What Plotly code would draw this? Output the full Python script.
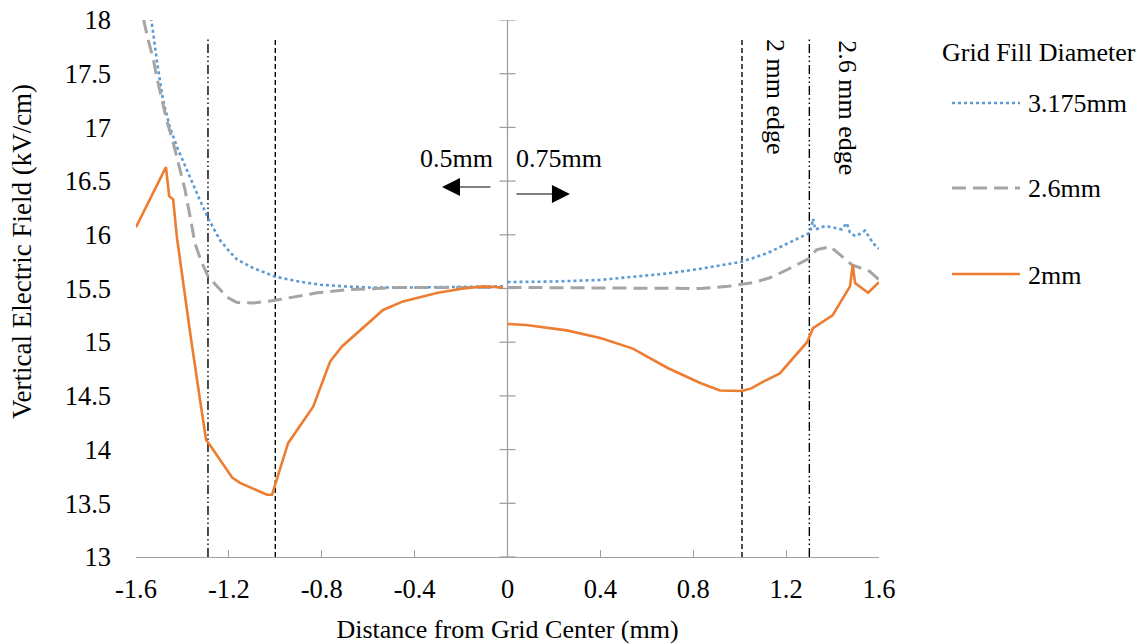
import plotly.graph_objects as go

# ---- data -------------------------------------------------------------
# Each series is measured on two half-grids (left: 0.5mm side, right: 0.75mm side)
x_3175_left = [-1.535, -1.51, -1.484, -1.454, -1.42, -1.381, -1.35, -1.324, -1.286, -1.238,
               -1.20, -1.165, -1.095, -1.0, -0.90, -0.807, -0.70, -0.60, -0.40, -0.20, -0.02]
y_3175_left = [18.02, 17.62, 17.26, 17.0, 16.8, 16.60, 16.45, 16.32, 16.14, 15.95,
               15.85, 15.77, 15.69, 15.61, 15.565, 15.535, 15.52, 15.51, 15.51, 15.515, 15.52]
x_3175_right = [0.0, 0.2, 0.4, 0.55, 0.69, 0.85, 1.01, 1.12, 1.217, 1.303, 1.316, 1.325,
                1.367, 1.40, 1.44, 1.461, 1.475, 1.497, 1.52, 1.54, 1.575, 1.60]
y_3175_right = [15.56, 15.565, 15.58, 15.61, 15.64, 15.69, 15.75, 15.83, 15.93, 16.02, 16.15, 16.05,
                16.08, 16.07, 16.05, 16.11, 16.02, 15.99, 16.01, 16.04, 15.92, 15.87]

x_26_left = [-1.575, -1.565, -1.547, -1.525, -1.511, -1.489, -1.468, -1.439, -1.418, -1.389,
             -1.367, -1.346, -1.317, -1.289, -1.238, -1.209, -1.165, -1.095, -1.0, -0.82,
             -0.68, -0.46, -0.20, -0.02]
y_26_left = [18.2, 17.98, 17.81, 17.63, 17.47, 17.26, 17.07, 16.85, 16.67, 16.42,
             16.17, 15.92, 15.74, 15.61, 15.49, 15.42, 15.37, 15.365, 15.39, 15.46,
             15.49, 15.51, 15.51, 15.51]
x_26_right = [0.0, 0.3, 0.61, 0.83, 0.95, 1.01, 1.06, 1.13, 1.2, 1.30, 1.33, 1.39,
              1.484, 1.56, 1.60]
y_26_right = [15.51, 15.505, 15.5, 15.5, 15.52, 15.54, 15.555, 15.6, 15.67, 15.78, 15.86, 15.89,
              15.72, 15.66, 15.58]

x_2_left = [-1.6, -1.471, -1.457, -1.44, -1.424, -1.39, -1.367, -1.324, -1.298, -1.281,
            -1.186, -1.152, -1.036, -1.014, -0.945, -0.837, -0.764, -0.713, -0.635, -0.536,
            -0.45, -0.39, -0.30, -0.19, -0.104, -0.02]
y_2_left = [16.07, 16.63, 16.36, 16.33, 15.98, 15.42, 15.09, 14.46, 14.09, 14.04,
            13.74, 13.69, 13.58, 13.58, 14.06, 14.4, 14.82, 14.96, 15.11, 15.30,
            15.38, 15.41, 15.46, 15.50, 15.52, 15.51]
x_2_right = [0.0, 0.08, 0.255, 0.4, 0.54, 0.69, 0.83, 0.915, 1.01, 1.05, 1.10, 1.173,
             1.29, 1.316, 1.40, 1.475, 1.487, 1.497, 1.553, 1.6]
y_2_right = [15.17, 15.16, 15.11, 15.04, 14.94, 14.76, 14.62, 14.55, 14.545, 14.57, 14.63, 14.71,
             15.0, 15.13, 15.25, 15.52, 15.72, 15.55, 15.46, 15.56]

series_names = ["3.175mm", "2.6mm", "2mm"]
series_colors = ["#5B9BD5", "#A5A5A5", "#ED7D31"]

# grid edge positions (mm from centre)
edge_2mm = [-1.0, 1.01]
edge_26mm = [-1.29, 1.30]
edge_top = 17.82

x_tick_values = [-1.6, -1.2, -0.8, -0.4, 0, 0.4, 0.8, 1.2, 1.6]
x_tick_labels = ["-1.6", "-1.2", "-0.8", "-0.4", "0", "0.4", "0.8", "1.2", "1.6"]
y_tick_values = [13, 13.5, 14, 14.5, 15, 15.5, 16, 16.5, 17, 17.5, 18]
y_tick_labels = ["13", "13.5", "14", "14.5", "15", "15.5", "16", "16.5", "17", "17.5", "18"]

# ---- figure -----------------------------------------------------------
FONT = "Liberation Serif, Times New Roman, DejaVu Serif, serif"
FS = 26
W, H = 1144, 644
ML, MR, MT, MB = 136, 265, 20, 87
AXIS_GREY = "#A0A0A0"


def join(xl, yl, xr, yr):
    return xl + [None] + xr, yl + [None] + yr


styles = [
    dict(color=series_colors[0], width=2.6, dash="dot"),
    dict(color=series_colors[1], width=3, dash="14px,7px"),
    dict(color=series_colors[2], width=2.6, dash="solid"),
]
data_pairs = [
    join(x_3175_left, y_3175_left, x_3175_right, y_3175_right),
    join(x_26_left, y_26_left, x_26_right, y_26_right),
    join(x_2_left, y_2_left, x_2_right, y_2_right),
]

fig = go.Figure()
for name, (xs, ys), st in zip(series_names, data_pairs, styles):
    fig.add_trace(go.Scatter(x=xs, y=ys, mode="lines", name=name, line=st,
                             connectgaps=False, showlegend=False))

shapes = []
# centre axis with crossing ticks
shapes.append(dict(type="line", xref="x", yref="y", x0=0, x1=0, y0=13, y1=18,
                   line=dict(color=AXIS_GREY, width=1.3), layer="below"))
half_tick = 8 / ((W - ML - MR) / 3.2)
for v in y_tick_values:
    shapes.append(dict(type="line", xref="x", yref="y", x0=-half_tick, x1=half_tick,
                       y0=v, y1=v, line=dict(color=AXIS_GREY, width=1.3), layer="below"))
# grid edge markers
for xe in edge_2mm:
    shapes.append(dict(type="line", xref="x", yref="y", x0=xe, x1=xe, y0=13, y1=edge_top,
                       line=dict(color="black", width=1.4, dash="5px,3px"), layer="below"))
for xe in edge_26mm:
    shapes.append(dict(type="line", xref="x", yref="y", x0=xe, x1=xe, y0=13, y1=edge_top,
                       line=dict(color="black", width=1.4, dash="9px,3px,1.5px,3px,1.5px,3px"),
                       layer="below"))


def px_x(p):
    return (p - ML) / (W - ML - MR)


def px_y(p):
    return (H - MB - p) / (H - MT - MB)


# legend block
legend_rows = [103, 188, 274]
for st, row, name in zip(styles, legend_rows, series_names):
    shapes.append(dict(type="line", xref="paper", yref="paper",
                       x0=px_x(952), x1=px_x(1020), y0=px_y(row), y1=px_y(row),
                       line=st))

annotations = [
    dict(text="Grid Fill Diameter", xref="paper", yref="paper", x=px_x(940), y=px_y(52),
         xanchor="left", yanchor="middle", showarrow=False),
    # y-axis title
    dict(text="Vertical Electric Field (kV/cm)", xref="paper", yref="paper",
         x=px_x(22), y=px_y(252), textangle=-90, showarrow=False,
         xanchor="center", yanchor="middle", font=dict(size=27)),
]
for row, name in zip(legend_rows, series_names):
    annotations.append(dict(text=name, xref="paper", yref="paper", x=px_x(1026), y=px_y(row + 1),
                            xanchor="left", yanchor="middle", showarrow=False))

# direction arrows
annotations += [
    dict(text="0.5mm", x=-0.055, y=16.715, xanchor="right", yanchor="middle", showarrow=False),
    dict(text="0.75mm", x=0.03, y=16.715, xanchor="left", yanchor="middle", showarrow=False),
    dict(text="", x=-0.282, y=16.445, ax=-0.067, ay=16.445, axref="x", ayref="y",
         showarrow=True, arrowhead=2, arrowsize=3.6, arrowwidth=1, arrowcolor="black"),
    dict(text="", x=0.269, y=16.38, ax=0.032, ay=16.38, axref="x", ayref="y",
         showarrow=True, arrowhead=2, arrowsize=3.6, arrowwidth=1, arrowcolor="black"),
    dict(text="2 mm edge", x=1.156, y=17.283, textangle=90, showarrow=False,
         xanchor="center", yanchor="middle"),
    dict(text="2.6 mm edge", x=1.466, y=17.18, textangle=90, showarrow=False,
         xanchor="center", yanchor="middle"),
]

fig.update_layout(
    width=W, height=H,
    margin=dict(l=ML, r=MR, t=MT, b=MB),
    paper_bgcolor="white", plot_bgcolor="white",
    font=dict(family=FONT, size=FS, color="black"),
    shapes=shapes, annotations=annotations,
    showlegend=False,
    xaxis=dict(range=[-1.6, 1.6], tickvals=x_tick_values, ticktext=x_tick_labels,
               showgrid=False, zeroline=False, showline=True, linecolor=AXIS_GREY,
               linewidth=1.3, ticks="inside", ticklen=7, tickcolor=AXIS_GREY, tickwidth=1.3,
               ticklabelstandoff=8, tickfont=dict(size=26.5), automargin=False,
               title=dict(text="Distance from Grid Center (mm)", standoff=18,
                          font=dict(family=FONT, size=FS, color="black"))),
    yaxis=dict(range=[13, 18], tickvals=y_tick_values, ticktext=y_tick_labels,
               showgrid=False, zeroline=False, showline=False, ticks="",
               ticklabelstandoff=24, tickfont=dict(size=26.5), automargin=False),
)

fig.write_html("out.html")
